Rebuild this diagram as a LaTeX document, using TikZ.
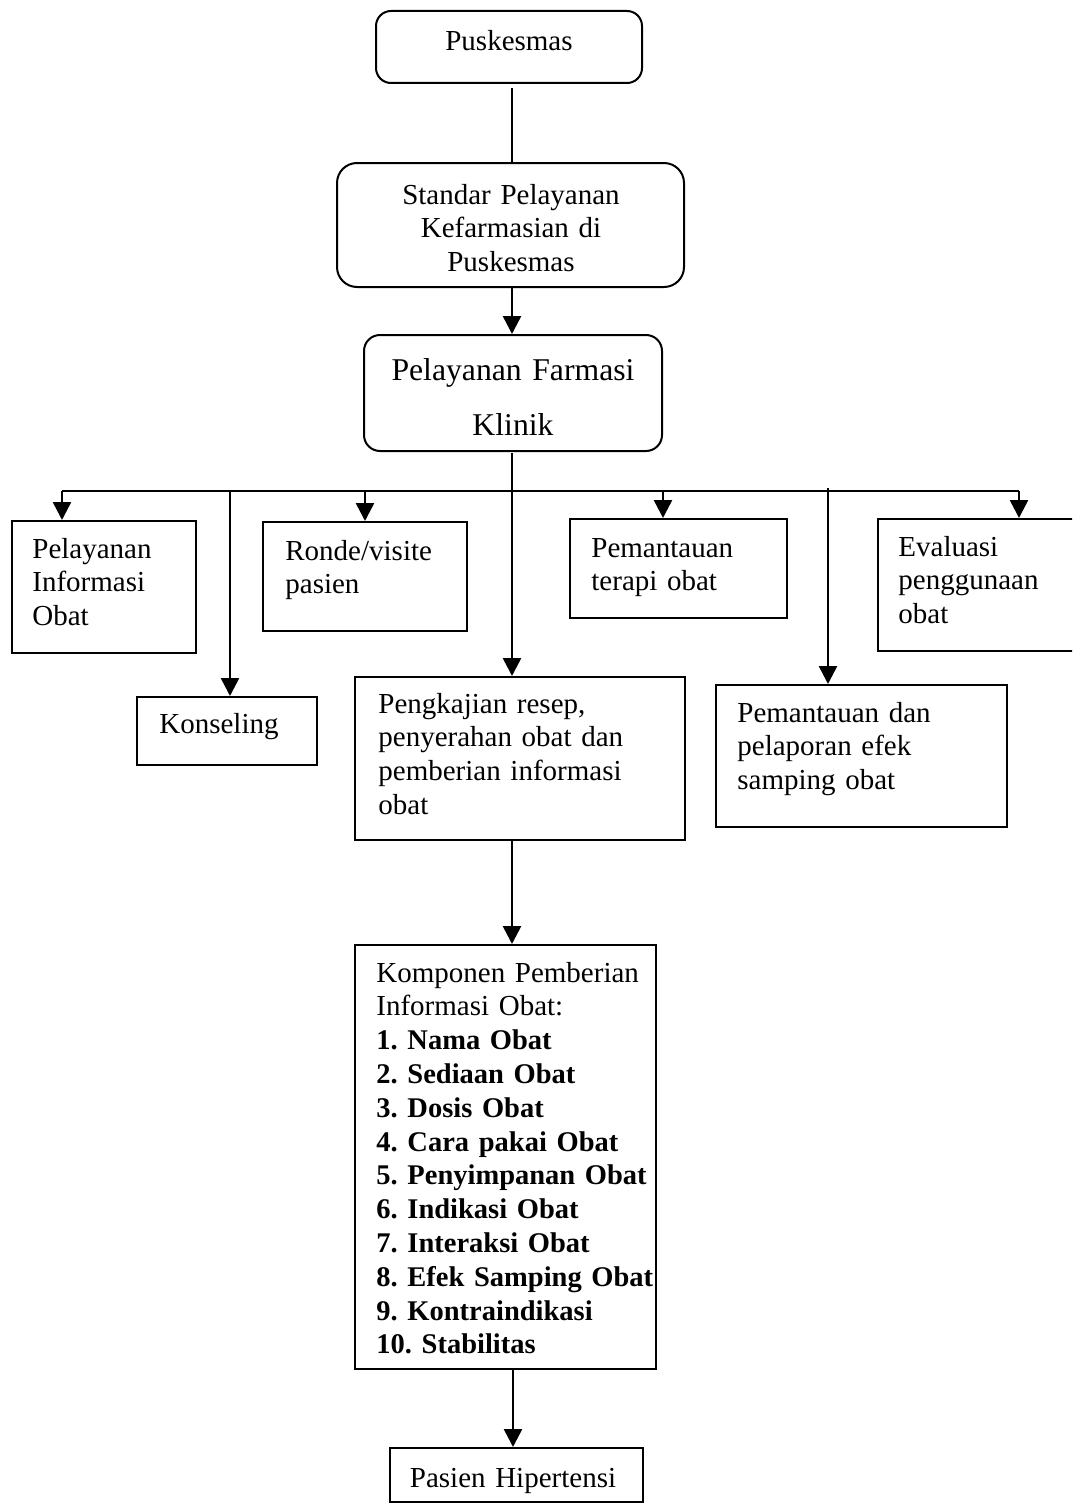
\documentclass[tikz,border=0pt]{standalone}
\usepackage{fontspec}
\setmainfont{Liberation Serif}
\usetikzlibrary{arrows.meta}
\frenchspacing
\newcommand{\bitem}[1]{{\bfseries\fontsize{14.25pt}{16.9pt}\selectfont #1}}
\begin{document}
\begin{tikzpicture}[x=0.5pt,y=-0.5pt,
  box/.style={draw, line width=1pt, inner sep=0pt},
  rbox/.style={box, rounded corners=#1},
  conn/.style={line width=1.3pt},
  arr/.style={line width=1.3pt, -{Triangle[width=9pt,length=9pt]}},
  ltxt/.style={inner sep=0pt, font=\fontsize{14.5pt}{16.9pt}\selectfont\frenchspacing, text width=200pt, align=left, anchor=base west},
  ctxt/.style={inner sep=0pt, font=\fontsize{14.5pt}{16.9pt}\selectfont\frenchspacing, text width=170pt, align=center, anchor=base},
  btxt/.style={inner sep=0pt, font=\fontsize{15.85pt}{27.5pt}\selectfont\frenchspacing, text width=170pt, align=center, anchor=base}
]
\useasboundingbox (0,0) rectangle (1072,1504);
\clip (0,0) rectangle (1072,1504);

% boxes
\node[rbox=7.5pt, minimum width=133pt, minimum height=36pt] (pusk) at (509,47) {};
\node[rbox=10pt, minimum width=173.5pt, minimum height=62pt] (std) at (510.5,225) {};
\node[rbox=8pt, minimum width=149pt, minimum height=58pt] (pfk) at (513,393) {};
\node[box, minimum width=92pt, minimum height=66pt] (pio) at (104,587) {};
\node[box, minimum width=90pt, minimum height=34pt] (kons) at (227,731) {};
\node[box, minimum width=102pt, minimum height=54.5pt] (ronde) at (365,576.5) {};
\node[box, minimum width=165pt, minimum height=81.5pt] (peng) at (520,758.5) {};
\node[box, minimum width=108.5pt, minimum height=49.5pt] (pto) at (678.5,568.5) {};
\node[box, minimum width=145.5pt, minimum height=71pt] (mpe) at (861.5,756) {};
\node[box, minimum width=106pt, minimum height=66pt] (eval) at (984,585) {};
\node[box, minimum width=150.5pt, minimum height=212pt] (komp) at (505.5,1157) {};
\node[box, minimum width=126.5pt, minimum height=27pt] (pas) at (516.5,1475) {};

% texts
\node[ctxt] (tpusk) at (509,51) {Puskesmas};
\node[ctxt] (tstd) at (511,204) {Standar Pelayanan\\Kefarmasian di\\Puskesmas};
\node[btxt] (tpfk) at (513,380) {Pelayanan Farmasi\\Klinik};
\node[ltxt] (tpio) at (32,558) {Pelayanan\\Informasi\\Obat};
\node[ltxt] (tkons) at (159,733) {Konseling};
\node[ltxt] (tronde) at (285,560) {Ronde/visite\\pasien};
\node[ltxt] (tpeng) at (378,713) {Pengkajian resep,\\penyerahan obat dan\\pemberian informasi\\obat};
\node[ltxt] (tpto) at (591,557) {Pemantauan\\terapi obat};
\node[ltxt] (teval) at (898,556) {Evaluasi\\penggunaan\\obat};
\node[ltxt] (tmpe) at (737,722) {Pemantauan dan\\pelaporan efek\\samping obat};
\node[ltxt] (tkomp) at (376,982) {Komponen Pemberian\\Informasi Obat:\\
\bitem{1. Nama Obat}\\
\bitem{2. Sediaan Obat}\\
\bitem{3. Dosis Obat}\\
\bitem{4. Cara pakai Obat}\\
\bitem{5. Penyimpanan Obat}\\
\bitem{6. Indikasi Obat}\\
\bitem{7. Interaksi Obat}\\
\bitem{8. Efek Samping Obat}\\
\bitem{9. Kontraindikasi}\\
\bitem{10. Stabilitas}};
\node[ctxt] (tpas) at (513,1487) {Pasien Hipertensi};

% connector coordinates
\coordinate (top1) at (512,88);
\coordinate (std1) at (512,287);
\coordinate (pfk1) at (512,453);
\coordinate (busL) at (62,491);
\coordinate (busR) at (1019,491);
\coordinate (konsX) at (230,491);
\coordinate (ptoX) at (663,491);
\coordinate (mpeX) at (828,488);
\coordinate (peng1) at (512,840);
\coordinate (komp1) at (513,1369);

% connectors
\draw[conn] (top1) -- (top1 |- std.north);
\draw[arr] (std1) -- (std1 |- pfk.north);
\draw[conn] (busL) -- (busR);
\draw[arr] (pfk1) -- (pfk1 |- peng.north);
\draw[arr] (busL) -- (busL |- pio.north);
\draw[arr] (konsX) -- (konsX |- kons.north);
\draw[arr] (ronde.north |- busL) -- (ronde.north);
\draw[arr] (ptoX) -- (ptoX |- pto.north);
\draw[arr] (mpeX) -- (mpeX |- mpe.north);
\draw[arr] (busR) -- (busR |- eval.north);
\draw[arr] (peng1) -- (peng1 |- komp.north);
\draw[arr] (komp1) -- (komp1 |- pas.north);
\end{tikzpicture}
\end{document}
